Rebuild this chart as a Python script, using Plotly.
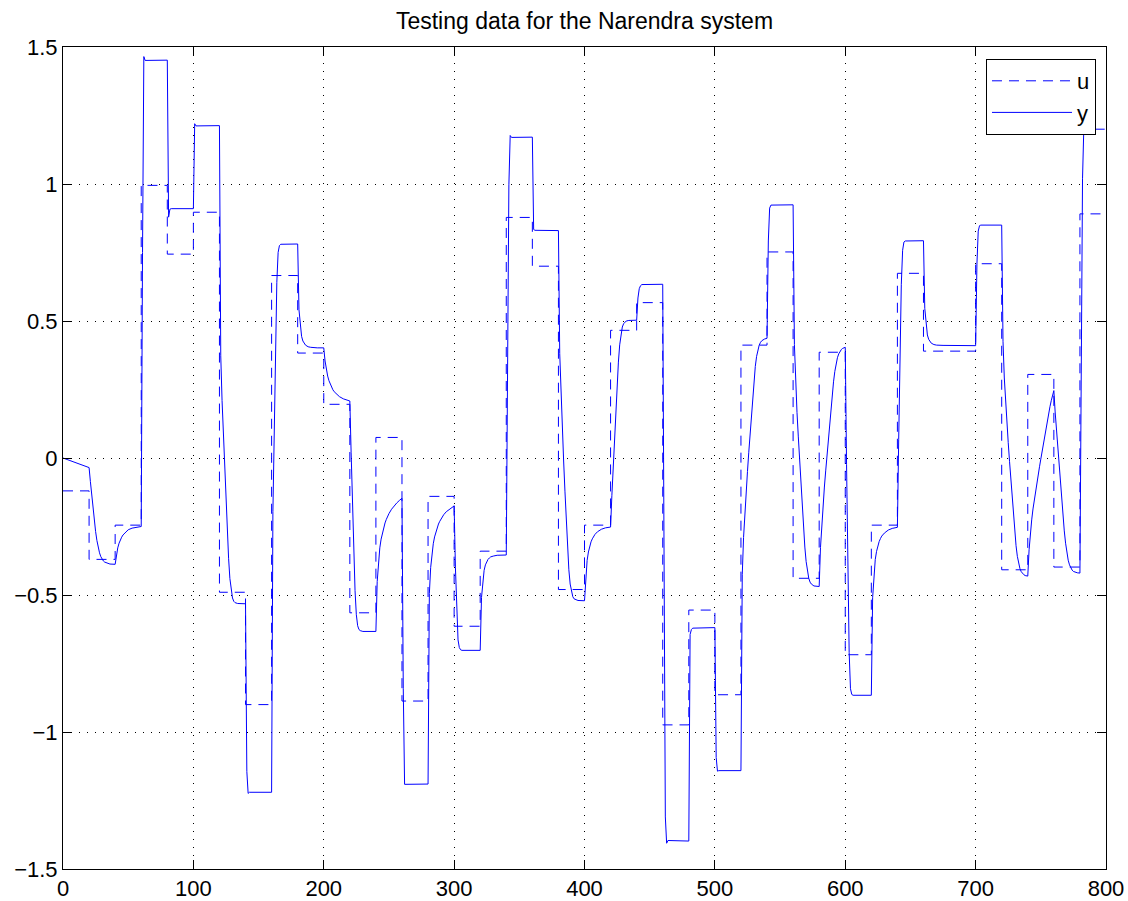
import plotly.graph_objects as go

# Input u: one level per block of 20 samples (blocks start at 0, 20, ..., 780)
u_block_start = list(range(0, 800, 20))
u_levels = [
    -0.12, -0.37, -0.245, 0.995, 0.744, 0.897, -0.49, -0.90, 0.666, 0.383,
    0.196, -0.565, 0.075, -0.887, -0.14, -0.614, -0.34, 0.878, 0.70, -0.48,
    -0.245, 0.466, 0.567, -0.974, -0.555, -0.864, 0.412, 0.752, -0.439, 0.386,
    -0.718, -0.245, 0.674, 0.39, 0.39, 0.709, -0.408, 0.305, -0.398, 0.891,
]
last_sample = 799

# Output y: sample index and value
y_k = [
    0, 20, 21, 22, 23, 24, 25, 26, 27, 28, 29, 30, 31, 32, 34, 36, 40,
    41, 42, 43, 44, 45, 46, 48, 50, 53, 56, 60,
    61, 62, 63, 80,
    81, 82, 83, 100,
    101, 102, 120,
    121, 122, 123, 124, 125, 126, 127, 128, 129, 130, 131, 132, 134, 140,
    141, 142, 143, 160,
    161, 162, 163, 164, 165, 166, 167, 180,
    181, 182, 183, 184, 185, 186, 188, 190, 195, 200,
    201, 202, 203, 204, 205, 206, 207, 208, 210, 212, 215, 220,
    221, 222, 223, 224, 225, 226, 227, 228, 230, 240,
    241, 242, 243, 244, 245, 246, 247, 248, 249, 250, 252, 254, 256, 258, 260,
    261, 262, 280,
    281, 282, 283, 284, 285, 286, 287, 288, 289, 290, 292, 294, 296, 298, 300,
    301, 302, 303, 304, 305, 306, 320,
    321, 322, 323, 324, 325, 326, 327, 328, 330, 333, 340,
    341, 342, 343, 344, 360,
    361, 362, 380,
    381, 382, 383, 384, 385, 386, 387, 388, 389, 390, 391, 392, 393, 395, 400,
    401, 402, 403, 404, 405, 406, 407, 408, 410, 413, 416, 420,
    421, 422, 423, 424, 425, 426, 427, 428, 429, 430, 431, 432, 434, 440,
    441, 442, 443, 444, 460,
    461, 462, 463, 464, 480,
    481, 482, 483, 500,
    501, 502, 503, 520,
    521, 522, 523, 524, 525, 526, 527, 528, 529, 530, 531, 532, 533, 534, 535,
    536, 538, 540,
    541, 542, 543, 560,
    561, 562, 563, 564, 565, 566, 567, 568, 569, 570, 571, 572, 573, 574, 576,
    580,
    581, 582, 583, 584, 585, 586, 587, 588, 589, 590, 591, 592, 593, 594, 595,
    596, 597, 598, 599, 600,
    601, 602, 603, 604, 605, 606, 620,
    621, 622, 623, 624, 625, 626, 627, 628, 630, 633, 636, 640,
    641, 642, 643, 644, 645, 646, 660,
    661, 662, 663, 664, 665, 666, 668, 670, 675, 700,
    701, 702, 703, 704, 720,
    721, 722, 723, 724, 725, 726, 727, 728, 729, 730, 731, 732, 733, 734, 735,
    736, 737, 738, 740,
    741, 742, 743, 744, 745, 746, 747, 748, 749, 750, 751, 752, 753, 754, 755,
    756, 757, 758, 759, 760,
    761, 762, 763, 764, 765, 766, 767, 768, 769, 770, 771, 772, 773, 774, 775,
    776, 778, 780,
    781, 782, 783, 784, 799,
]
y_val = [
    0.0, -0.035, -0.086, -0.136, -0.184, -0.229, -0.268, -0.301, -0.327, -0.346,
    -0.360, -0.369, -0.376, -0.380, -0.385, -0.387, -0.388,
    -0.352, -0.328, -0.311, -0.298, -0.289, -0.281, -0.270, -0.262, -0.256,
    -0.253, -0.250,
    0.750, 1.465, 1.451, 1.452,
    0.879, 0.908, 0.910, 0.910,
    1.220, 1.212, 1.213,
    0.373, 0.210, 0.084, -0.035, -0.152, -0.266, -0.366, -0.440, -0.486, -0.511,
    -0.523, -0.528, -0.531, -0.532,
    -1.144, -1.224, -1.220, -1.220,
    -0.195, 0.108, 0.402, 0.641, 0.750, 0.775, 0.780, 0.781,
    0.541, 0.475, 0.444, 0.427, 0.417, 0.412, 0.406, 0.404, 0.402, 0.402,
    0.354, 0.322, 0.299, 0.282, 0.269, 0.258, 0.249, 0.242, 0.231, 0.224, 0.216,
    0.208,
    0.019, -0.161, -0.338, -0.484, -0.572, -0.612, -0.626, -0.630, -0.633,
    -0.633,
    -0.451, -0.375, -0.328, -0.296, -0.272, -0.253, -0.237, -0.224, -0.213,
    -0.203, -0.187, -0.174, -0.164, -0.155, -0.147,
    -0.842, -1.191, -1.190,
    -0.495, -0.400, -0.348, -0.313, -0.288, -0.269, -0.254, -0.241, -0.231,
    -0.222, -0.207, -0.196, -0.188, -0.181, -0.175,
    -0.401, -0.577, -0.664, -0.692, -0.700, -0.702, -0.702,
    -0.509, -0.444, -0.410, -0.390, -0.378, -0.370, -0.365, -0.361, -0.358,
    -0.355, -0.354,
    0.362, 0.997, 1.177, 1.170, 1.171,
    0.834, 0.831, 0.830,
    0.381, 0.222, 0.101, -0.011, -0.121, -0.230, -0.329, -0.408, -0.460, -0.490,
    -0.506, -0.514, -0.517, -0.520, -0.521,
    -0.424, -0.374, -0.343, -0.322, -0.306, -0.295, -0.286, -0.279, -0.269,
    -0.260, -0.255, -0.252,
    -0.136, -0.032, 0.069, 0.170, 0.267, 0.350, 0.413, 0.454, 0.478, 0.490,
    0.496, 0.500, 0.502, 0.503,
    0.584, 0.618, 0.629, 0.633, 0.634,
    -0.472, -1.310, -1.406, -1.396, -1.398,
    -0.644, -0.626, -0.621, -0.619,
    -1.093, -1.143, -1.141, -1.141,
    -0.426, -0.290, -0.198, -0.120, -0.049, 0.021, 0.091, 0.161, 0.227, 0.286,
    0.334, 0.371, 0.396, 0.412, 0.422, 0.428, 0.434, 0.437,
    0.792, 0.912, 0.923, 0.924,
    0.414, 0.269, 0.166, 0.077, -0.008, -0.093, -0.177, -0.256, -0.325, -0.378,
    -0.416, -0.439, -0.453, -0.460, -0.467, -0.469,
    -0.327, -0.238, -0.168, -0.106, -0.047, 0.011, 0.068, 0.126, 0.181, 0.233,
    0.278, 0.316, 0.345, 0.366, 0.380, 0.390, 0.396, 0.400, 0.402, 0.404,
    -0.023, -0.393, -0.710, -0.842, -0.863, -0.866, -0.866,
    -0.510, -0.419, -0.371, -0.341, -0.320, -0.305, -0.294, -0.285, -0.274,
    -0.263, -0.257, -0.253,
    0.068, 0.374, 0.634, 0.758, 0.788, 0.792, 0.793,
    0.546, 0.480, 0.449, 0.433, 0.424, 0.419, 0.414, 0.412, 0.411, 0.410,
    0.708, 0.828, 0.848, 0.850, 0.850,
    0.426, 0.292, 0.202, 0.126, 0.056, -0.012, -0.080, -0.148, -0.212, -0.271,
    -0.320, -0.359, -0.386, -0.404, -0.415, -0.422, -0.426, -0.429, -0.431,
    -0.335, -0.273, -0.226, -0.186, -0.152, -0.120, -0.090, -0.061, -0.032,
    -0.004, 0.025, 0.053, 0.082, 0.109, 0.137, 0.162, 0.187, 0.209, 0.228, 0.246,
    0.168, 0.101, 0.037, -0.027, -0.090, -0.152, -0.212, -0.266, -0.311, -0.347,
    -0.373, -0.390, -0.402, -0.409, -0.414, -0.416, -0.419, -0.420,
    0.350, 1.019, 1.207, 1.200, 1.200,
]

x_tick_vals = [0, 100, 200, 300, 400, 500, 600, 700, 800]
x_tick_text = ["0", "100", "200", "300", "400", "500", "600", "700", "800"]
y_tick_vals = [-1.5, -1.0, -0.5, 0.0, 0.5, 1.0, 1.5]
y_tick_text = ["\u22121.5", "\u22121", "\u22120.5", "0", "0.5", "1", "1.5"]

title_text = "Testing data for the Narendra system"
blue = "rgb(0,0,255)"

fig = go.Figure()

# u held constant over each block: step line
fig.add_trace(go.Scatter(
    x=u_block_start + [last_sample],
    y=u_levels + [u_levels[-1]],
    mode="lines",
    name="u",
    line=dict(color=blue, width=1, dash="10px,7px", shape="hv"),
))

fig.add_trace(go.Scatter(
    x=y_k,
    y=y_val,
    mode="lines",
    name="y",
    line=dict(color=blue, width=1),
))

axis_common = dict(
    showline=True,
    linecolor="black",
    linewidth=1,
    mirror="ticks",
    ticks="inside",
    ticklen=9,
    tickwidth=1,
    tickcolor="black",
    showgrid=True,
    gridcolor="black",
    gridwidth=1,
    griddash="1px,7px",
    zeroline=False,
    automargin=False,
    tickfont=dict(size=22, color="black"),
)

fig.update_xaxes(
    range=[0, 800],
    tickmode="array",
    tickvals=x_tick_vals,
    ticktext=x_tick_text,
    **axis_common,
)
fig.update_yaxes(
    range=[-1.5, 1.5],
    tickmode="array",
    tickvals=y_tick_vals,
    ticktext=y_tick_text,
    **axis_common,
)

fig.update_layout(
    width=1128,
    height=901,
    margin=dict(l=63, r=22, t=47, b=32, pad=0, autoexpand=False),
    paper_bgcolor="white",
    plot_bgcolor="white",
    font=dict(family="Liberation Sans, Arial, Helvetica, sans-serif", size=22,
              color="black"),
    title=dict(
        text=title_text,
        xref="paper",
        x=0.5,
        xanchor="center",
        yref="container",
        y=1 - 21 / 901,
        yanchor="middle",
        font=dict(size=23, color="black"),
    ),
    legend=dict(
        x=0.9904,
        y=0.9854,
        xanchor="right",
        yanchor="top",
        bgcolor="white",
        bordercolor="black",
        borderwidth=1,
        itemwidth=80,
        font=dict(size=22, color="black"),
        tracegroupgap=0,
    ),
    showlegend=True,
)

fig.write_html("out.html")
